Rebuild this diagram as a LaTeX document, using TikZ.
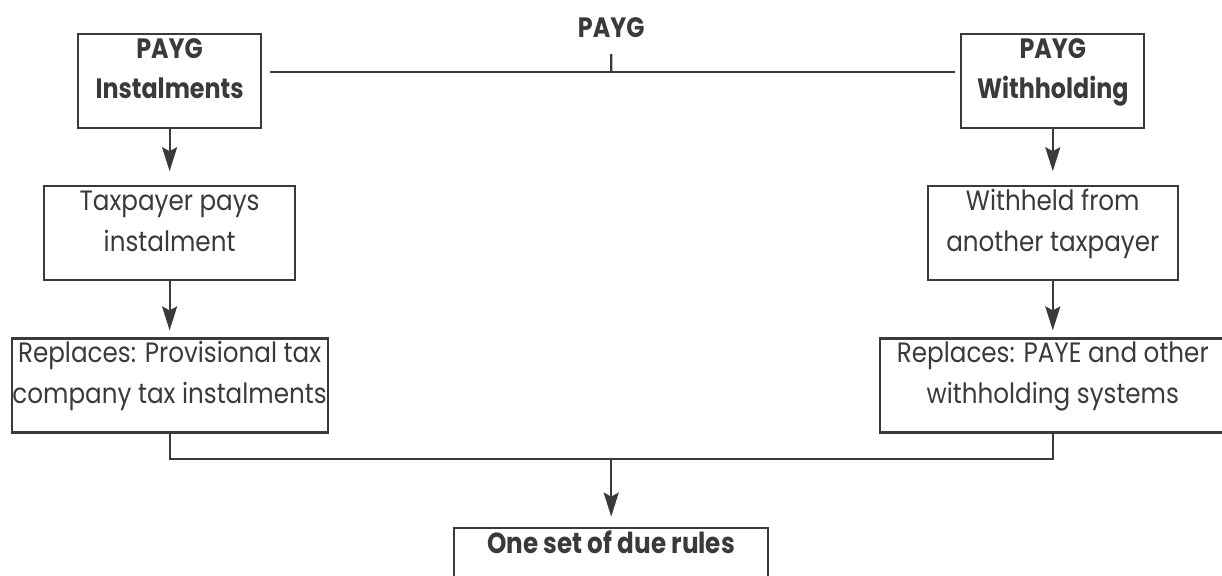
\documentclass[tikz,border=0pt]{standalone}
\usepackage{fontspec}
\setmainfont{Poppins}[FakeStretch=0.88, BoldFeatures={FakeStretch=0.85}]
\usepackage{xcolor}
\usepackage{tikz}
\usetikzlibrary{positioning,arrows.meta,calc}
\definecolor{inkgray}{RGB}{58,58,58}
\tikzset{
  box/.style   = {draw=inkgray, line width=1.1pt, text=inkgray, align=center, inner xsep=0pt, inner ysep=2.5pt,
                  font=\fontsize{14pt}{20.5pt}\selectfont, text height=30pt, text depth=12pt},
  hbox/.style  = {box, font=\fontsize{14pt}{20pt}\selectfont\bfseries, text height=29.5pt, text depth=12.5pt},
  link/.style  = {draw=inkgray, line width=1.1pt},
  flow/.style  = {link, -{Stealth[length=12pt, width=7.5pt, inset=2pt]}},
}
\begin{document}
\begin{tikzpicture}
  \useasboundingbox (0,0) rectangle (611pt,-287.5pt);
  \node[hbox, minimum width=91.5pt, anchor=north west] (ins) at (38.5pt,-16.5pt) {PAYG\\Instalments};
  \node[hbox, minimum width=91.5pt, right=349pt of ins] (wh) {PAYG\\Withholding};
  \node[anchor=base, text=inkgray, font=\fontsize{14pt}{20pt}\selectfont\bfseries] (payg)
    at ($(ins.north)!0.5!(wh.north)+(0,-2pt)$) {PAYG};
  \node[box, minimum width=125.5pt, below=28pt of ins] (pays) {Taxpayer pays\\instalment};
  \node[box, minimum width=125pt, below=28pt of wh] (held) {Withheld from\\another taxpayer};
  \node[box, minimum width=158pt, below=28pt of pays] (repl) {Replaces: Provisional tax\\company tax instalments};
  \node[box, minimum width=172.5pt, below=28pt of held] (other) {Replaces: PAYE and other\\withholding systems};
  \coordinate (hub) at ($(ins.east)!0.5!(wh.west)+(0,4.75pt)$);
  \coordinate (join) at ($(repl.south)!0.5!(other.south)+(0,-12.5pt)$);
  \node[hbox, minimum width=157pt, font=\fontsize{14.5pt}{20pt}\selectfont\bfseries, text height=10.5pt, text depth=31pt,
    below=34pt of join] (rules) {One set of due rules};
  % top bar
  \draw[link] ([xshift=4pt,yshift=4.75pt]ins.east) -- ([xshift=-2.5pt,yshift=4.75pt]wh.west);
  \draw[link] (hub) -- ([yshift=-8.5pt]payg.base);
  \draw[flow, shorten >=7pt] (ins) -- (pays);
  \draw[flow, shorten >=7pt] (wh) -- (held);
  \draw[flow, shorten >=3.5pt] (pays) -- (repl);
  \draw[flow, shorten >=3.5pt] (held) -- (other);
  % merge
  \draw[link] (repl.south) |- (join) -| (other.south);
  \draw[flow, shorten >=5pt] (join) -- (rules);
\end{tikzpicture}
\end{document}
